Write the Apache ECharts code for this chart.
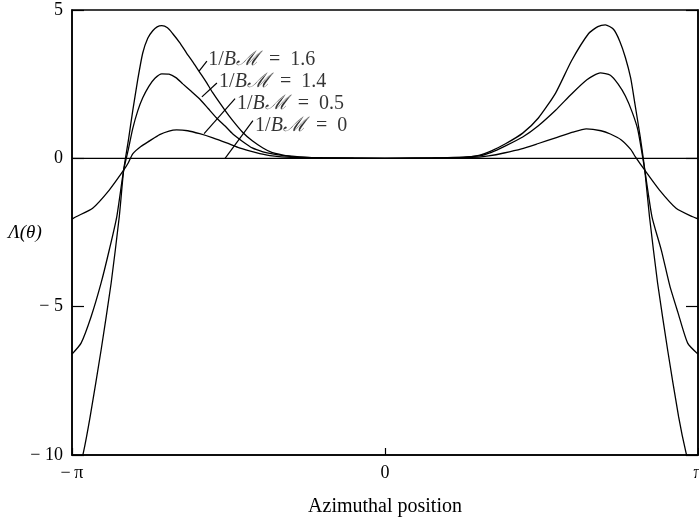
<!DOCTYPE html>
<html>
<head>
<meta charset="utf-8">
<script src="https://cdn.jsdelivr.net/npm/echarts@6/dist/echarts.min.js"></script>
<style>
  html, body { margin: 0; padding: 0; background: #fff; }
  #chart { width: 699px; height: 517px; }
</style>
</head>
<body>
<div id="chart"></div>
<script>
// Azimuthal position in units of pi, and Λ(θ) for each value of 1/BM
const theta16 = [-1.0, -0.964, -0.942, -0.907, -0.875, -0.849, -0.835, -0.82, -0.806, -0.79, -0.774, -0.758, -0.742, -0.728, -0.713, -0.695, -0.678, -0.656, -0.634, -0.612, -0.592, -0.57, -0.551, -0.51, -0.487, -0.455, -0.424, -0.39, -0.36, -0.33, -0.306, -0.25, -0.15, 0, 0.15, 0.25, 0.30, 0.34, 0.385, 0.44, 0.49, 0.545, 0.596, 0.65, 0.68, 0.704, 0.73, 0.75, 0.768, 0.785, 0.799, 0.815, 0.83, 0.845, 0.871, 0.903, 0.938, 0.962, 1.0];
const lambda16 = [-11.5, -9.94, -8.71, -6.46, -4.21, -1.97, -0.4, 0.6, 1.6, 2.65, 3.55, 4.05, 4.30, 4.43, 4.47, 4.40, 4.20, 3.9, 3.55, 3.22, 2.9, 2.55, 2.22, 1.6, 1.28, 0.88, 0.59, 0.35, 0.19, 0.12, 0.08, 0.03, 0.01, 0, 0.01, 0.03, 0.1, 0.25, 0.49, 0.85, 1.36, 2.2, 3.29, 4.2, 4.44, 4.50, 4.35, 3.95, 3.4, 2.7, 1.8, 0.75, -0.4, -1.97, -4.21, -6.46, -8.71, -9.94, -11.5];

const theta14 = [-1.0, -0.971, -0.939, -0.907, -0.881, -0.857, -0.835, -0.82, -0.806, -0.79, -0.774, -0.755, -0.735, -0.713, -0.69, -0.668, -0.646, -0.62, -0.592, -0.565, -0.538, -0.51, -0.487, -0.455, -0.424, -0.39, -0.36, -0.30, -0.2, -0.1, 0, 0.1, 0.2, 0.3, 0.34, 0.385, 0.44, 0.49, 0.545, 0.596, 0.645, 0.688, 0.72, 0.745, 0.768, 0.79, 0.808, 0.83, 0.853, 0.883, 0.91, 0.936, 0.967, 1.0];
const lambda14 = [-6.6, -6.23, -5.34, -4.2, -3.09, -1.97, -0.4, 0.3, 1.0, 1.6, 2.04, 2.42, 2.7, 2.85, 2.84, 2.72, 2.51, 2.27, 2.0, 1.68, 1.36, 1.08, 0.83, 0.57, 0.35, 0.22, 0.15, 0.06, 0.02, 0.005, 0, 0.005, 0.02, 0.08, 0.2, 0.42, 0.72, 1.10, 1.62, 2.17, 2.65, 2.88, 2.8, 2.5, 2.1, 1.55, 0.95, -0.4, -1.97, -3.1, -4.3, -5.2, -6.23, -6.6];

const theta05 = [-1.0, -0.987, -0.934, -0.881, -0.835, -0.82, -0.806, -0.78, -0.752, -0.72, -0.69, -0.666, -0.63, -0.592, -0.55, -0.506, -0.47, -0.433, -0.40, -0.36, -0.30, -0.2, 0, 0.2, 0.30, 0.331, 0.38, 0.436, 0.49, 0.545, 0.60, 0.643, 0.69, 0.72, 0.755, 0.785, 0.80, 0.83, 0.877, 0.93, 0.983, 1.0];
const lambda05 = [-2.05, -1.97, -1.68, -1.07, -0.4, -0.15, 0.15, 0.4, 0.59, 0.80, 0.92, 0.96, 0.93, 0.83, 0.69, 0.52, 0.37, 0.25, 0.16, 0.08, 0.03, 0.01, 0, 0.01, 0.04, 0.08, 0.18, 0.32, 0.5, 0.69, 0.88, 0.99, 0.93, 0.82, 0.62, 0.3, 0.05, -0.4, -1.07, -1.68, -1.97, -2.04];

const theta00 = [-1.0, 1.0];
const lambda00 = [0, 0];

// Curve labels: value of 1/BM, text anchor and leader line (start on the text, end on the curve)
const curveNames = ['1.6', '1.4', '0.5', '0'];
const labelTheta = [-0.565, -0.530, -0.473, -0.415];
const labelLambda = [3.31, 2.57, 1.83, 1.09];
const leaderFromTheta = [-0.569, -0.537, -0.479, -0.422];
const leaderFromLambda = [3.28, 2.54, 2.01, 1.27];
const leaderToTheta = [-0.594, -0.585, -0.578, -0.511];
const leaderToLambda = [2.94, 2.07, 0.83, 0];

// Axis ticks
const yTicks = [5, 0, -5, -10];
const xTickLabels = { '-1': '\u2212\u2009\u03c0', '0': '0', '1': '\u03c0' };

const serif = '"Liberation Serif", "DejaVu Serif", serif';
const pairs = (xs, ys) => xs.map((x, i) => [x, ys[i]]);

function curve(name, xs, ys, width) {
  return {
    name: name, type: 'line', data: pairs(xs, ys),
    smooth: 0.2,
    showSymbol: false, clip: true, silent: true,
    lineStyle: { color: '#000', width: width || 1.3 }
  };
}

const series = [
  curve('1.6', theta16, lambda16),
  curve('1.4', theta14, lambda14),
  curve('0.5', theta05, lambda05),
  curve('0', theta00, lambda00, 1.1)
];

curveNames.forEach((n, i) => {
  series.push({
    type: 'line', silent: true, showSymbol: false,
    data: [[leaderFromTheta[i], leaderFromLambda[i]], [leaderToTheta[i], leaderToLambda[i]]],
    lineStyle: { color: '#000', width: 1.2 }
  });
});

series.push({
  type: 'scatter', silent: true, symbolSize: 0,
  data: curveNames.map((n, i) => ({ value: [labelTheta[i], labelLambda[i]], name: n })),
  label: {
    show: true, position: 'right', distance: 0,
    formatter: p => '{n|1/}{i|B\u2133}{n|  =  ' + p.name + '}',
    rich: {
      n: { fontFamily: serif, fontSize: 20, color: '#000' },
      i: { fontFamily: serif, fontSize: 20, fontStyle: 'italic', color: '#000' }
    }
  }
});

const chart = echarts.init(document.getElementById('chart'), null, { renderer: 'canvas' });
chart.setOption({
  animation: false,
  backgroundColor: '#fff',
  grid: {
    left: 72, right: 1, top: 10, bottom: 62, containLabel: false, outerBoundsMode: 'none',
    show: true, borderColor: '#000', borderWidth: 1.5, backgroundColor: 'transparent'
  },
  xAxis: [{
    type: 'value', min: -1, max: 1, interval: 1,
    name: 'Azimuthal position', nameLocation: 'middle', nameGap: 42,
    nameTextStyle: { fontFamily: serif, fontSize: 20, color: '#000' },
    axisLine: { show: true, onZero: false, lineStyle: { color: '#000', width: 1.5 } },
    axisTick: { show: true, inside: true, length: 7, lineStyle: { color: '#000', width: 1.2 } },
    axisLabel: { fontFamily: serif, fontSize: 18, color: '#000', margin: 9, formatter: v => xTickLabels[String(v)] },
    splitLine: { show: false }
  }],
  yAxis: [{
    type: 'value', min: -10, max: 5, interval: 5,
    name: '\u039b(\u03b8)', nameLocation: 'middle', nameRotate: 0, nameGap: 47, nameMoveOverlap: false,
    nameTextStyle: { fontFamily: serif, fontSize: 19, fontStyle: 'italic', color: '#000', align: 'center', verticalAlign: 'middle' },
    axisLine: { show: true, onZero: false, lineStyle: { color: '#000', width: 1.5 } },
    axisTick: { show: true, inside: true, length: 12, lineStyle: { color: '#000', width: 1.2 } },
    axisLabel: { fontFamily: serif, fontSize: 18, color: '#000', margin: 9,
      formatter: v => yTicks.includes(v) ? (v < 0 ? '\u2212 ' + Math.abs(v) : String(v)) : '' },
    splitLine: { show: false }
  }, {
    type: 'value', min: -10, max: 5, interval: 5, position: 'right',
    axisLine: { show: true, onZero: false, lineStyle: { color: '#000', width: 1.5 } },
    axisTick: { show: true, inside: true, length: 12, lineStyle: { color: '#000', width: 1.2 } },
    axisLabel: { show: false }, splitLine: { show: false }
  }],
  series: series
});
</script>
</body>
</html>
